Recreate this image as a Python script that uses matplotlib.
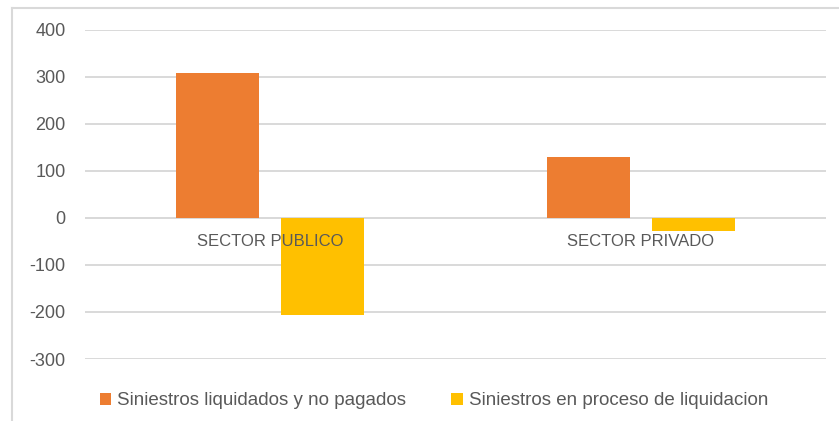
import matplotlib.pyplot as plt
from matplotlib.lines import Line2D
import numpy as np

# Datos
categorias = ['SECTOR PUBLICO', 'SECTOR PRIVADO']
series = ['Siniestros liquidados y no pagados', 'Siniestros en proceso de liquidacion']
liquidados = [308, 130]
en_proceso = [-206, -29]
colores = ['#ed7d31', '#ffc000']

plt.rcParams['font.family'] = ['Liberation Sans', 'DejaVu Sans']
plt.rcParams['axes.unicode_minus'] = False

fig = plt.figure(figsize=(8.39, 4.21), dpi=100)
ax = fig.add_axes([85 / 839, 62 / 421, 741 / 839, 329.4 / 421])

x = np.arange(len(categorias))
ancho = 0.224
desp = 0.1417
ax.bar(x - desp, liquidados, ancho, color=colores[0], label=series[0], zorder=3)
ax.bar(x + desp, en_proceso, ancho, color=colores[1], label=series[1], zorder=3)

ax.set_xlim(-0.5, 1.5)
ax.set_ylim(-300, 400)
ax.set_yticks(np.arange(-300, 401, 100))
ax.grid(True, axis='y', color='#d9d9d9', linewidth=1.4, zorder=0)
ax.axhline(0, color='#d9d9d9', linewidth=1.4, zorder=1)

for s in ax.spines.values():
    s.set_visible(False)
ax.tick_params(axis='y', length=0, pad=14, labelsize=13, labelcolor='#595959')
ax.set_xticks([])

# etiquetas de categoria junto a la linea cero
for i, c in enumerate(categorias):
    ax.text(x[i], -50, c, ha='center', va='center', fontsize=12, color='#595959', zorder=4)

ax.legend(loc='upper center', bbox_to_anchor=(0.471, -0.05), ncol=2, frameon=False,
          fontsize=13.5, handlelength=0.6, handleheight=0.6, handletextpad=0.35,
          columnspacing=2.4, labelcolor='#595959')

# marco del grafico
fig.add_artist(Line2D([12 / 839, 12 / 839], [0, 1 - 7.5 / 421], color='#d9d9d9', linewidth=1.5))
fig.add_artist(Line2D([12 / 839, 1], [1 - 7.5 / 421, 1 - 7.5 / 421], color='#d9d9d9', linewidth=1.5))

fig.savefig('out.png', dpi=100)
